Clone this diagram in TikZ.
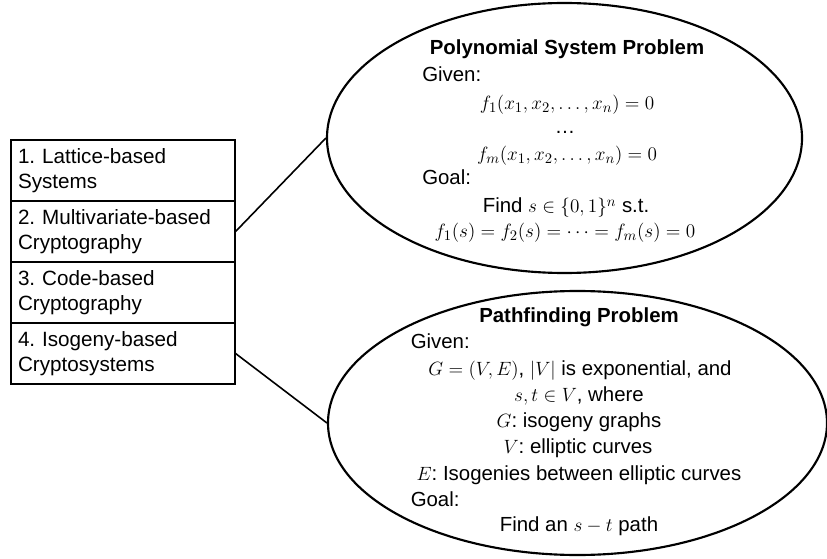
\documentclass[tikz,border=0pt]{standalone}
\usepackage[no-math]{fontspec}
\setmainfont{Liberation Sans}
\usetikzlibrary{shapes.geometric}
\frenchspacing
\tikzset{
  rowbox/.style={draw, line width=0.9pt, minimum width=168pt, minimum height=45.75pt,
    text width=157.5pt, inner xsep=5.25pt, inner ysep=0pt, align=left,
    font=\fontsize{15.5}{18.8}\selectfont},
  bubble/.style={ellipse, draw, line width=1.6pt, inner sep=0pt},
  link/.style={line width=1.2pt},
  ln/.style={inner sep=0pt, anchor=base, font=\fontsize{15.3}{18}\selectfont},
  lnl/.style={ln, anchor=base west},
  ttl/.style={ln, font=\fontsize{15.3}{18}\selectfont\bfseries},
}
\begin{document}
\begin{tikzpicture}[x=0.75pt, y=-0.75pt]
\useasboundingbox (0,0) rectangle (827,559);

% list of the four families
\node[rowbox] (r1) at (123,170.5) {1. Lattice-based\\Systems};
\node[rowbox] (r2) at (123,231.5) {2. Multivariate-based\\Cryptography};
\node[rowbox] (r3) at (123,292.5) {3. Code-based\\Cryptography};
\node[rowbox] (r4) at (123,353.5) {4. Isogeny-based\\Cryptosystems};

% the two hard problems
\node[bubble, minimum width=356.25pt, minimum height=202.5pt] (poly) at (564.5,138) {};
\node[bubble, minimum width=374.25pt, minimum height=198pt] (path) at (577.5,423) {};

\draw[link] (r2.east) -- (poly.west);
\draw[link] (r4.east) -- (path.west);

% polynomial system problem
\node[ttl] (pt) at (567,55) {Polynomial System Problem};
\node[lnl] (pg) at (422,82) {Given:};
\node[ln] (pf1) at (567,110) {$f_1(x_1,x_2,\ldots,x_n)=0$};
\node[ln] (pd) at (565,134) {\ldots};
\node[ln] (pfm) at (567,161) {$f_m(x_1,x_2,\ldots,x_n)=0$};
\node[lnl] (pgo) at (422,185) {Goal:};
\node[ln] (pfind) at (566,213) {Find $s\in\{0,1\}^n$ s.t.};
\node[ln] (peq) at (565,238) {$f_1(s)=f_2(s)=\cdots=f_m(s)=0$};

% pathfinding problem
\node[ttl] (qt) at (579,322) {Pathfinding Problem};
\node[lnl] (qg) at (410.5,348.5) {Given:};
\node[ln] (q1) at (580,375) {$G=(V,E)$, $|V|$ is exponential, and};
\node[ln] (q2) at (579,401) {$s,t\in V$, where};
\node[ln] (q3) at (579,427) {$G$: isogeny graphs};
\node[ln] (q4) at (578,453.5) {$V$: elliptic curves};
\node[ln] (q5) at (579,480) {$E$: Isogenies between elliptic curves};
\node[lnl] (qgo) at (410.5,506) {Goal:};
\node[ln] (q6) at (579,531) {Find an $s-t$ path};
\end{tikzpicture}
\end{document}
